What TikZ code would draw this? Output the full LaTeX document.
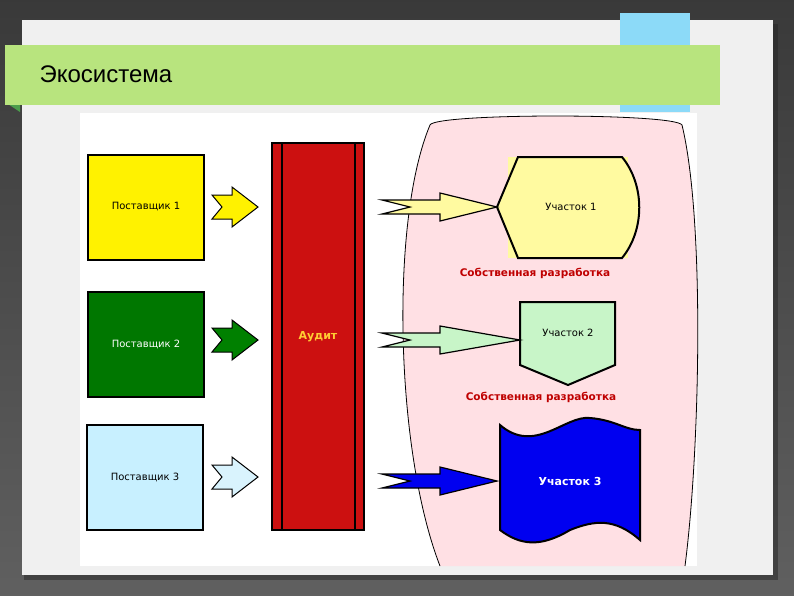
\documentclass[tikz,border=0pt]{standalone}
\usepackage{fontspec}
\setmainfont{DejaVu Sans}
\newfontfamily\titlefont{Liberation Sans}
\begin{document}
\begin{tikzpicture}[x=1pt,y=-1pt,
  box/.style={draw=black,line width=2pt,minimum width=116pt,minimum height=105pt,font=\fontsize{10}{12}\selectfont},
  lbl/.style={text=red!75!black,font=\fontsize{10.5}{12}\selectfont\bfseries},
  sarr/.style={draw=black,line width=1pt},
  larr/.style={draw=black,line width=1.2pt},
  part/.style={draw=black,line width=2pt}]
\useasboundingbox (0,0) rectangle (794,595);
\fill[top color=gray!45!black,bottom color=gray!75!black] (0,0) rectangle (794,595);
\fill[gray!30!black,opacity=0.5] (24,24) rectangle (778,580);
\fill[gray!12] (22,20) rectangle (773,575);
\fill[cyan!40!gray!60!white,fill=cyan!45!white] (620,13) rectangle (690,112);
\fill[green!45!black!70!white] (5,102) -- (20,112) -- (20,102) -- cycle;
\fill[fill={rgb,255:red,184;green,228;blue,126}] (5,45) rectangle (720,105);
\node[anchor=west,font=\titlefont\fontsize{24}{28}\selectfont] (title) at (36,74) {Экосистема};
\fill[white] (80,113) rectangle (697,566);
% pink region
\draw[fill={rgb,255:red,255;green,224;blue,228},line width=0.8pt]
  (440,566) .. controls (395,450) and (390,220) .. (430,125)
  .. controls (435,113) and (675,113) .. (682,125)
  .. controls (705,220) and (700,450) .. (685,566);
% suppliers
\node[box,fill=yellow] (p1) at (146,207) {Поставщик 1};
\node[box,fill={rgb,255:red,0;green,119;blue,0},text=white] (p2) at (146,344) {Поставщик 2};
\node[box,fill={rgb,255:red,200;green,240;blue,255}] (p3) at (145,477) {Поставщик 3};
% audit
\node[draw=black,line width=2pt,fill={rgb,255:red,204;green,16;blue,16},minimum width=92pt,minimum height=387pt] (aud) at (318,336) {};
\draw[line width=2pt] (282,143) -- (282,530) (355,143) -- (355,530);
\node[text={rgb,255:red,255;green,204;blue,51},font=\fontsize{11}{13}\selectfont\bfseries] at (318,337) {Аудит};
% small arrows
\foreach \y/\c in {207/yellow,340/{green!50!black},477/{cyan!15}} {
  \draw[sarr,fill=\c] (212,\y-12) -- (232,\y-12) -- (232,\y-20) -- (258,\y) -- (232,\y+20) -- (232,\y+12) -- (212,\y+12) -- (222,\y) -- cycle;
}
% участки
\node[part,fill={rgb,255:red,255;green,250;blue,160},minimum width=120pt,minimum height=101pt,draw=none] (u1) at (568,207) {};
\draw[part,fill={rgb,255:red,255;green,250;blue,160}] (497,207) -- (518,157) -- (622,157) .. controls (645,185) and (645,230) .. (622,258) -- (518,258) -- cycle;
\node[font=\fontsize{10}{12}\selectfont] at (571,207) {Участок 1};
\node[lbl] (l1) at (535,273) {Собственная разработка};
\draw[part,fill={rgb,255:red,200;green,245;blue,200}] (520,302) -- (615,302) -- (615,365) -- (568,385) -- (520,365) -- cycle;
\node[font=\fontsize{10}{12}\selectfont] (u2) at (568,333) {Участок 2};
\node[lbl] (l2) at (541,397) {Собственная разработка};
\draw[part,fill={rgb,255:red,0;green,0;blue,240}] (500,425) .. controls (535,455) and (565,415) .. (590,418) .. controls (615,420) and (625,430) .. (640,430)
  -- (640,540) .. controls (615,518) and (595,520) .. (570,530) .. controls (540,548) and (520,545) .. (500,530) -- cycle;
\node[text=white,font=\fontsize{11}{13}\selectfont\bfseries] (u3) at (570,481) {Участок 3};
% long arrows
\foreach \y/\c/\t in {207/{rgb,255:red,255;green,250;blue,160}/497,340/{rgb,255:red,200;green,245;blue,200}/520,481/{rgb,255:red,0;green,0;blue,240}/497} {
  \draw[larr,fill=\c] (382,\y-7) -- (440,\y-7) -- (440,\y-14) -- (\t,\y) -- (440,\y+14) -- (440,\y+7) -- (382,\y+7) -- (410,\y) -- cycle;
}
\end{tikzpicture}
\end{document}
